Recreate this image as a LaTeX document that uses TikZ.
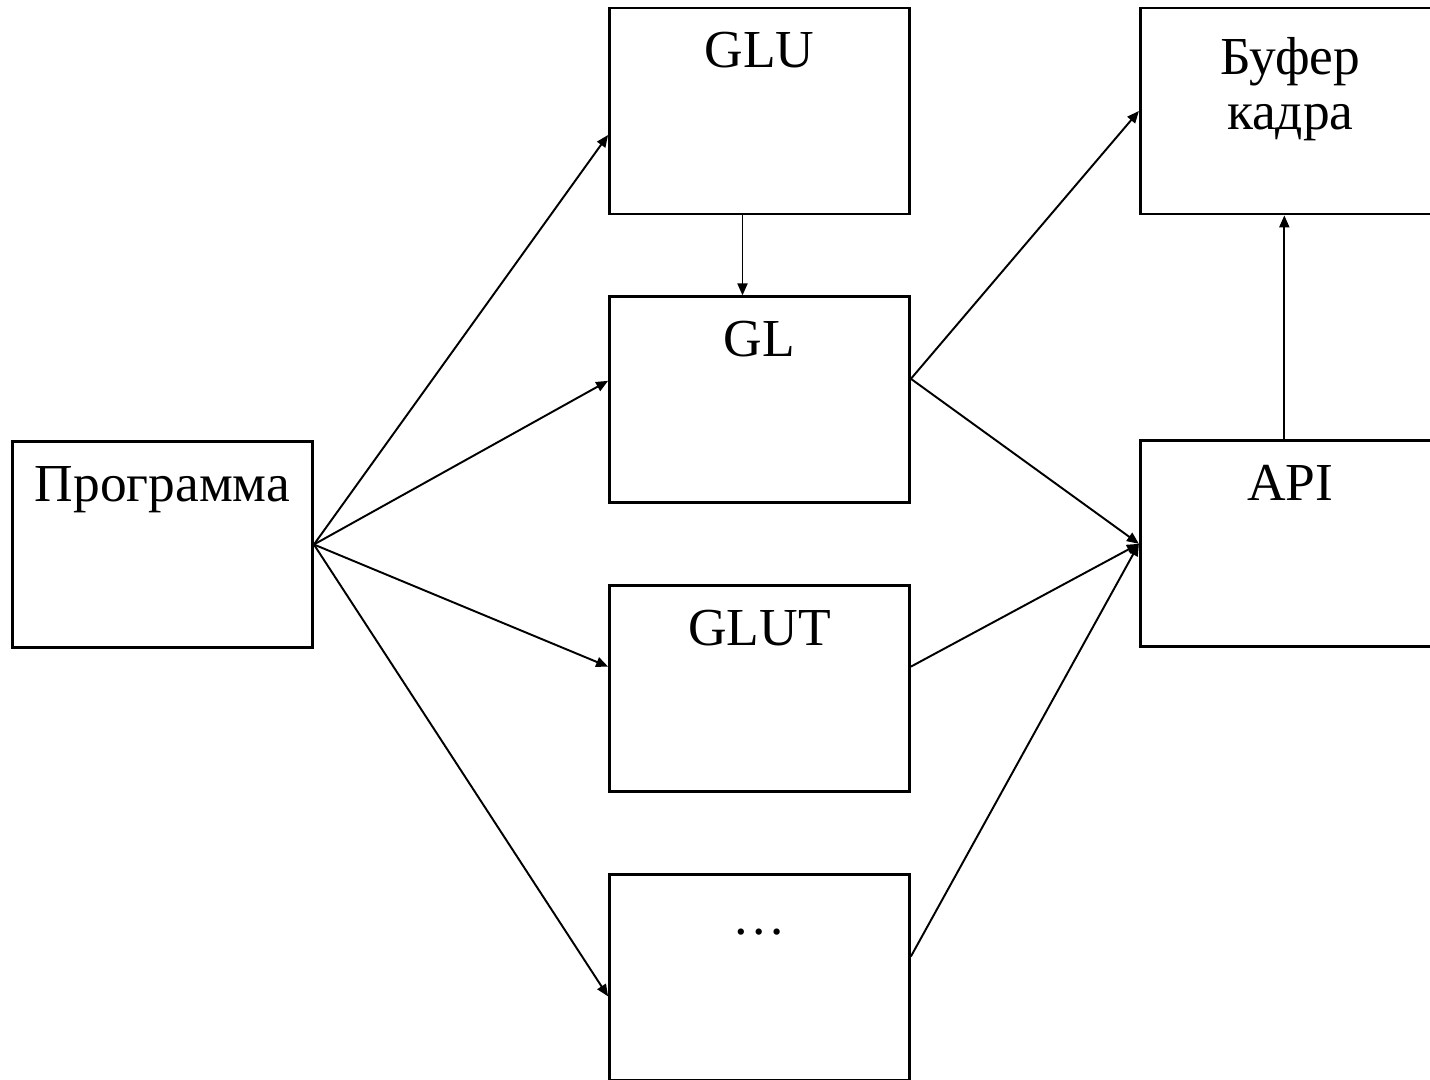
\documentclass[tikz,border=0pt]{standalone}
\usepackage{fontspec}
\setmainfont{Liberation Serif}
\usetikzlibrary{arrows.meta,positioning,calc}

\begin{document}
\begin{tikzpicture}[
            node distance=1.6cm,
            block/.style={rectangle, draw, line width=1.6pt, minimum width=6cm, text width=6cm, align=center, inner sep=0pt, text height=1.2cm, text depth=2.92cm, font=\fontsize{30.4}{31.3}\selectfont},
            arrow/.style={-{Triangle[length=0.24cm, width=0.2cm]}, line width=1.1pt}
        ]
            \useasboundingbox (0,0) rectangle (28.6,21.58);
            \node[block] (prog) at (3.25,10.69) {Программа};
            \node[block] (glu) at (15.19,19.36) {GLU};
            \node[block, below=of glu] (gl) {GL};
            \node[block, below=of gl] (glut) {GLUT};
            \node[block, below=of glut] (dots) {…};
            \node[block, right=4.56cm of glu, text height=1.34cm, text depth=2.78cm] (buf) {Буфер\\кадра};
            \node[block, below=4.48cm of buf] (api) {API};

            \draw[arrow] (prog.east) -- ([yshift=-0.48cm]glu.west);
            \draw[arrow] (prog.east) -- ([yshift=0.38cm]gl.west);
            \draw[arrow] (prog.east) -- ([yshift=0.44cm]glut.west);
            \draw[arrow] (prog.east) -- ([yshift=-0.38cm]dots.west);
            \draw[arrow] ([xshift=-0.34cm]glu.south) -- ([xshift=-0.34cm]gl.north);
            \draw[arrow] ([yshift=0.42cm]gl.east) -- (buf.west);
            \draw[arrow] ([yshift=0.42cm]gl.east) -- (api.west);
            \draw[arrow] ([yshift=0.44cm]glut.east) -- (api.west);
            \draw[arrow] ([yshift=0.42cm]dots.east) -- (api.west);
            \draw[arrow] ([xshift=-0.12cm]api.north) -- ([xshift=-0.12cm]buf.south);
        \end{tikzpicture}
\end{document}
